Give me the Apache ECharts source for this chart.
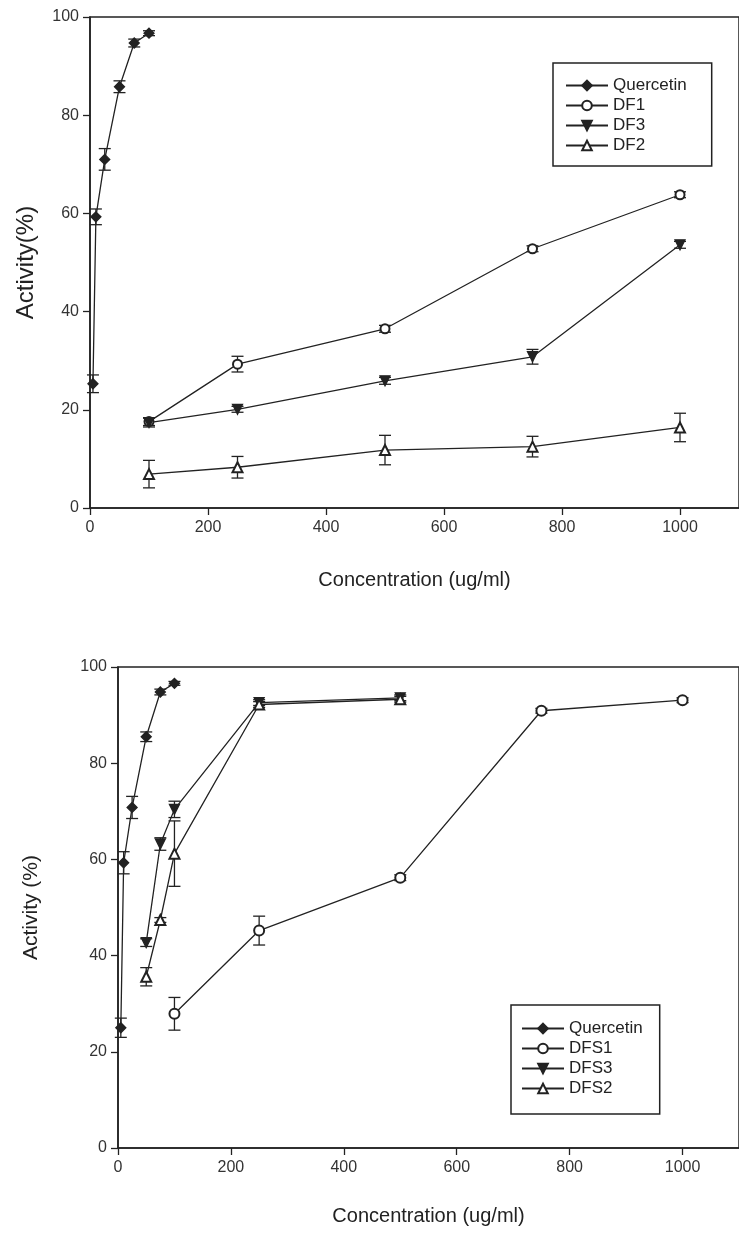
<!DOCTYPE html>
<html>
<head>
<meta charset="utf-8">
<script src="https://cdn.jsdelivr.net/npm/echarts@6/dist/echarts.min.js"></script>
<style>
html, body { margin: 0; padding: 0; background: #fff; }
#main { width: 739px; height: 1235px; }
</style>
</head>
<body>
<div id="main"></div>
<script>
// concentrations (ug/ml)
var quercetinConc = [5, 10, 25, 50, 75, 100];
var dfConc = [100, 250, 500, 750, 1000];
var dfsLowConc = [50, 75, 100, 250, 500];

// top panel: activity (%) and error
var quercetinTop = [25.3, 59.3, 71.0, 85.8, 94.7, 96.7];
var quercetinTopErr = [1.8, 1.6, 2.2, 1.2, 0.8, 0.5];
var df1 = [17.6, 29.3, 36.5, 52.8, 63.8];
var df1Err = [0.8, 1.6, 0.7, 0.6, 0.6];
var df3 = [17.4, 20.1, 25.9, 30.8, 53.6];
var df3Err = [0.9, 0.6, 0.7, 1.5, 0.7];
var df2 = [6.9, 8.3, 11.8, 12.5, 16.4];
var df2Err = [2.8, 2.2, 3.0, 2.1, 2.9];

// bottom panel
var quercetinBottom = [25.0, 59.3, 70.8, 85.5, 94.8, 96.6];
var quercetinBottomErr = [2.0, 2.3, 2.3, 1.0, 0.6, 0.4];
var dfs1 = [27.9, 45.2, 56.2, 90.9, 93.1];
var dfs1Err = [3.4, 3.0, 0.6, 0.5, 0.5];
var dfs3 = [42.7, 63.2, 70.4, 92.6, 93.6];
var dfs3Err = [0.8, 1.3, 1.7, 0.6, 0.6];
var dfs2 = [35.6, 47.4, 61.2, 92.2, 93.3];
var dfs2Err = [1.9, 0.5, 6.8, 0.6, 0.6];

var topLegend = ['Quercetin', 'DF1', 'DF3', 'DF2'];
var bottomLegend = ['Quercetin', 'DFS1', 'DFS3', 'DFS2'];

var ink = '#222';
var font = "'Liberation Sans', Arial, sans-serif";

var chart = echarts.init(document.getElementById('main'));

function pairs(xs, ys) {
	return xs.map(function(x, i) { return [x, ys[i]]; });
}
function bars(xs, ys, es) {
	return xs.map(function(x, i) { return [x, ys[i] - es[i], ys[i] + es[i]]; });
}

// vertical error bar with caps
function errRender(params, api) {
	var x = api.value(0);
	var top = api.coord([x, api.value(2)]);
	var bot = api.coord([x, api.value(1)]);
	var w = 6;
	var st = { stroke: ink, lineWidth: 1.3 };
	return {
		type : 'group',
		children : [
			{ type : 'line', shape : { x1 : top[0], y1 : top[1], x2 : bot[0], y2 : bot[1] }, style : st },
			{ type : 'line', shape : { x1 : top[0] - w, y1 : top[1], x2 : top[0] + w, y2 : top[1] }, style : st },
			{ type : 'line', shape : { x1 : bot[0] - w, y1 : bot[1], x2 : bot[0] + w, y2 : bot[1] }, style : st }
		]
	};
}

function lineSeries(name, idx, xs, ys, symbol, size, rotate) {
	return {
		name : name,
		type : 'line',
		xAxisIndex : idx,
		yAxisIndex : idx,
		data : pairs(xs, ys),
		symbol : symbol,
		symbolSize : size,
		symbolRotate : rotate || 0,
		showAllSymbol : true,
		z : 3,
		lineStyle : { color : ink, width : 1.3 },
		itemStyle : { color : ink, borderColor : ink, borderWidth : 1.3 },
		emphasis : { disabled : true },
		animation : false
	};
}

function errSeries(idx, xs, ys, es) {
	return {
		name : 'err',
		type : 'custom',
		xAxisIndex : idx,
		yAxisIndex : idx,
		renderItem : errRender,
		encode : { x : 0, y : [1, 2] },
		data : bars(xs, ys, es),
		z : 2,
		silent : true,
		animation : false
	};
}

function xAxisCfg(idx, gap) {
	return {
		type : 'value',
		gridIndex : idx,
		min : 0,
		max : 1100,
		interval : 200,
		name : 'Concentration (ug/ml)',
		nameLocation : 'middle',
		nameGap : gap,
		nameTextStyle : { color : ink, fontSize : 20, fontFamily : font },
		axisLine : { onZero : false, lineStyle : { color : ink, width : 1.6 } },
		axisTick : { length : 7, lineStyle : { color : ink, width : 1.3 } },
		axisLabel : {
			color : '#333', fontSize : 16, fontFamily : font, margin : 12, showMaxLabel : false,
			formatter : function(v) { return String(v); }
		},
		splitLine : { show : false }
	};
}

function yAxisCfg(idx, gap, size, label) {
	return {
		type : 'value',
		gridIndex : idx,
		min : 0,
		max : 100,
		interval : 20,
		name : label,
		nameLocation : 'middle',
		nameRotate : 90,
		nameGap : gap,
		nameTextStyle : { color : ink, fontSize : size, fontFamily : font },
		axisLine : { onZero : false, lineStyle : { color : ink, width : 1.6 } },
		axisTick : { length : 7, lineStyle : { color : ink, width : 1.3 } },
		axisLabel : { color : '#333', fontSize : 16, fontFamily : font, margin : 11 },
		splitLine : { show : false }
	};
}

function legendCfg(names, left, top, pad) {
	return {
		data : names,
		orient : 'vertical',
		left : left,
		top : top,
		padding : pad,
		itemWidth : 42,
		itemHeight : 12,
		itemGap : 3,
		selectedMode : false,
		borderColor : ink,
		borderWidth : 1.5,
		borderRadius : 0,
		textStyle : { color : ink, fontSize : 17, fontFamily : font }
	};
}

var option = {
	backgroundColor : '#fff',
	animation : false,
	grid : [
		{ left : 90, top : 17, right : -11, bottom : 727, show : true, borderColor : ink, borderWidth : 1.5, containLabel : false },
		{ left : 118, top : 667, right : -4, bottom : 87, show : true, borderColor : ink, borderWidth : 1.5, containLabel : false }
	],
	xAxis : [ xAxisCfg(0, 62), xAxisCfg(1, 58) ],
	yAxis : [ yAxisCfg(0, 52, 24, 'Activity(%)'), yAxisCfg(1, 76, 21, 'Activity (%)') ],
	legend : [
		legendCfg(topLegend, 553, 63, [14, 25, 12, 12]),
		legendCfg(bottomLegend, 511, 1005, [15, 17, 17, 10])
	],
	series : [
		errSeries(0, quercetinConc, quercetinTop, quercetinTopErr),
		errSeries(0, dfConc, df1, df1Err),
		errSeries(0, dfConc, df3, df3Err),
		errSeries(0, dfConc, df2, df2Err),
		lineSeries('Quercetin', 0, quercetinConc, quercetinTop, 'diamond', 10),
		lineSeries('DF1', 0, dfConc, df1, 'emptyCircle', 9),
		lineSeries('DF3', 0, dfConc, df3, 'triangle', 10, 180),
		lineSeries('DF2', 0, dfConc, df2, 'emptyTriangle', 10),

		errSeries(1, quercetinConc, quercetinBottom, quercetinBottomErr),
		errSeries(1, dfConc, dfs1, dfs1Err),
		errSeries(1, dfsLowConc, dfs3, dfs3Err),
		errSeries(1, dfsLowConc, dfs2, dfs2Err),
		lineSeries('Quercetin', 1, quercetinConc, quercetinBottom, 'diamond', 10),
		lineSeries('DFS1', 1, dfConc, dfs1, 'emptyCircle', 10),
		lineSeries('DFS3', 1, dfsLowConc, dfs3, 'triangle', 10, 180),
		lineSeries('DFS2', 1, dfsLowConc, dfs2, 'emptyTriangle', 10)
	]
};

chart.setOption(option);
</script>
</body>
</html>
